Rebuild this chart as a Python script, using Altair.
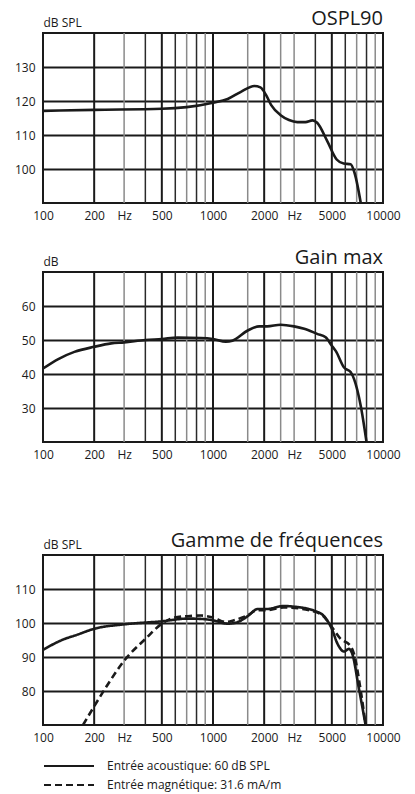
import altair as alt
import pandas as pd

FONT = "Open Sans"
INK = "#1a1a1a"

# x axis: labelled frequencies and grid line frequencies (Hz)
freq_labels = [100, 200, 300, 500, 1000, 2000, 3000, 5000, 10000]
grid_major = [200, 500, 1000, 2000, 5000]
grid_medium = [400, 600, 800, 4000, 6000, 8000]
grid_minor = [300, 700, 900, 1600, 2500, 3000, 7000, 9000]

# OSPL90 (dB SPL)
ospl_f = [100, 200, 500, 700, 1000, 1220, 1460, 1750, 1900, 2050, 2200, 2500,
          2800, 3130, 3500, 3850, 4100, 4700, 5340, 5870, 6450, 6800, 7400]
ospl_db = [117.1, 117.4, 117.7, 118.2, 119.5, 120.6, 122.7, 124.4, 124.0, 121.8,
           118.8, 115.8, 114.4, 113.8, 113.8, 114.3, 113.6, 108.2, 102.8, 101.6,
           101.4, 98.9, 90.0]

# Gain max (dB)
gain_f = [100, 123, 153, 200, 252, 300, 400, 500, 620, 850, 1000, 1190, 1300,
          1600, 1870, 2080, 2500, 3000, 3440, 4100, 4600, 5000, 5270, 5900,
          6450, 6760, 7400, 8000]
gain_db = [41.6, 44.4, 46.5, 48.0, 49.0, 49.3, 50.0, 50.3, 50.7, 50.6, 50.3,
           49.5, 49.8, 52.8, 54.0, 54.0, 54.5, 54.0, 53.3, 51.8, 50.8, 48.3,
           46.8, 41.9, 40.6, 38.5, 30.6, 20.0]

# Gamme de fréquences (dB SPL)
series_names = ["Entrée acoustique: 60 dB SPL", "Entrée magnétique: 31.6 mA/m"]
acou_f = [100, 128, 160, 200, 300, 500, 710, 850, 1000, 1220, 1400, 1600, 1830,
          2080, 2600, 3000, 4000, 4500, 5000, 5400, 5900, 6300, 6600, 7200, 7900]
acou_db = [92.1, 94.9, 96.6, 98.3, 99.6, 100.5, 101.3, 101.2, 100.8, 99.8,
           100.3, 102.0, 104.1, 104.1, 105.0, 104.8, 103.5, 102.0, 98.3, 93.9,
           91.6, 92.4, 90.9, 81.0, 70.0]
magn_f = [172, 200, 241, 300, 400, 500, 594, 710, 850, 1000, 1190, 1330, 1600,
          1830, 2080, 2600, 4000, 4500, 5000, 5640, 6400, 6750, 7400, 7900]
magn_db = [70.0, 75.5, 82.0, 88.9, 95.3, 99.8, 101.6, 102.0, 102.2, 101.6,
           100.3, 100.8, 102.3, 103.8, 103.8, 104.6, 103.3, 101.8, 98.8, 95.3,
           93.4, 90.9, 80.0, 70.0]

W, H = 340, 170
SPACER = 17

xscale = alt.Scale(type="log", domain=[100, 10000], nice=False)
xaxis = alt.Axis(
    values=freq_labels,
    labelExpr="datum.value == 300 || datum.value == 3000 ? 'Hz' : format(datum.value, 'd')",
    grid=False, ticks=False, domain=False, labelFont=FONT, labelFontSize=12,
    labelColor=INK, labelPadding=7, labelOverlap=False, labelFlush=False,
    title=None,
)


def grid_layer(vals, color, width):
    return alt.Chart(pd.DataFrame({"f": vals})).mark_rule(
        color=color, strokeWidth=width
    ).encode(x=alt.X("f:Q", scale=xscale, axis=xaxis))


def panel(df, ydomain, yvals, title, ytitle, legend=False):
    yaxis = alt.Axis(
        values=yvals, grid=True, gridColor=INK, gridWidth=2, ticks=False,
        domain=False, labelFont=FONT, labelFontSize=12, labelColor=INK,
        labelPadding=8, title=ytitle, titleAngle=0, titleAlign="left",
        titleBaseline="alphabetic", titleX=0, titleY=-7, titleFont=FONT,
        titleFontSize=12, titleFontWeight="normal", titleColor=INK,
    )
    enc = dict(
        x=alt.X("f:Q", scale=xscale, axis=xaxis),
        y=alt.Y("db:Q", scale=alt.Scale(domain=ydomain, nice=False, zero=False), axis=yaxis),
        detail="series:N",
    )
    if legend:
        enc["strokeDash"] = alt.StrokeDash(
            "series:N",
            scale=alt.Scale(domain=series_names, range=[[1, 0], [7, 4]]),
            legend=alt.Legend(
                title=None, orient="none", legendX=20, legendY=H + 35,
                direction="vertical", symbolType="M-5,0H5", symbolSize=100,
                symbolStrokeWidth=2, symbolStrokeColor=INK, symbolFillColor="transparent",
                labelFont=FONT, labelFontSize=12, labelColor=INK, labelOffset=32,
                rowPadding=7, labelLimit=400,
            ),
        )
    line = alt.Chart(df).mark_line(
        color=INK, strokeWidth=2.6, interpolate="monotone", clip=True
    ).encode(**enc)
    return alt.layer(
        grid_layer(grid_minor, "#8a8a8a", 1.5),
        grid_layer(grid_medium, "#2a2a2a", 1.5),
        grid_layer(grid_major, INK, 2),
        line,
    ).properties(
        width=W, height=H,
        title=alt.TitleParams(
            title, anchor="end", frame="group", font=FONT, fontSize=20,
            fontWeight="normal", color=INK, offset=-13,
        ),
    )


df1 = pd.DataFrame({"f": ospl_f, "db": ospl_db, "series": "ospl"})
df2 = pd.DataFrame({"f": gain_f, "db": gain_db, "series": "gain"})
df3 = pd.concat([
    pd.DataFrame({"f": acou_f, "db": acou_db, "series": series_names[0]}),
    pd.DataFrame({"f": magn_f, "db": magn_db, "series": series_names[1]}),
])

p1 = panel(df1, [90, 140], [100, 110, 120, 130], "OSPL90", "dB SPL")
p2 = panel(df2, [20, 70], [30, 40, 50, 60], "Gain max", "dB")
p3 = panel(df3, [70, 120], [80, 90, 100, 110], "Gamme de fréquences", "dB SPL", legend=True)

spacer = alt.Chart(pd.DataFrame({"v": [0]})).mark_point(opacity=0).encode(
    x=alt.X("v:Q", axis=None), y=alt.Y("v:Q", axis=None)
).properties(width=W, height=SPACER, view=alt.ViewBackground(stroke="transparent"))

chart = alt.vconcat(p1, p2, spacer, p3, spacing=25).resolve_legend(
    strokeDash="independent"
).resolve_scale(strokeDash="independent").properties(
    padding={"left": 5, "top": 0, "right": 5, "bottom": 5},
    background="white",
).configure_view(stroke=INK, strokeWidth=2)

chart.save("out.html", embed_options={"renderer": "svg", "actions": False})
